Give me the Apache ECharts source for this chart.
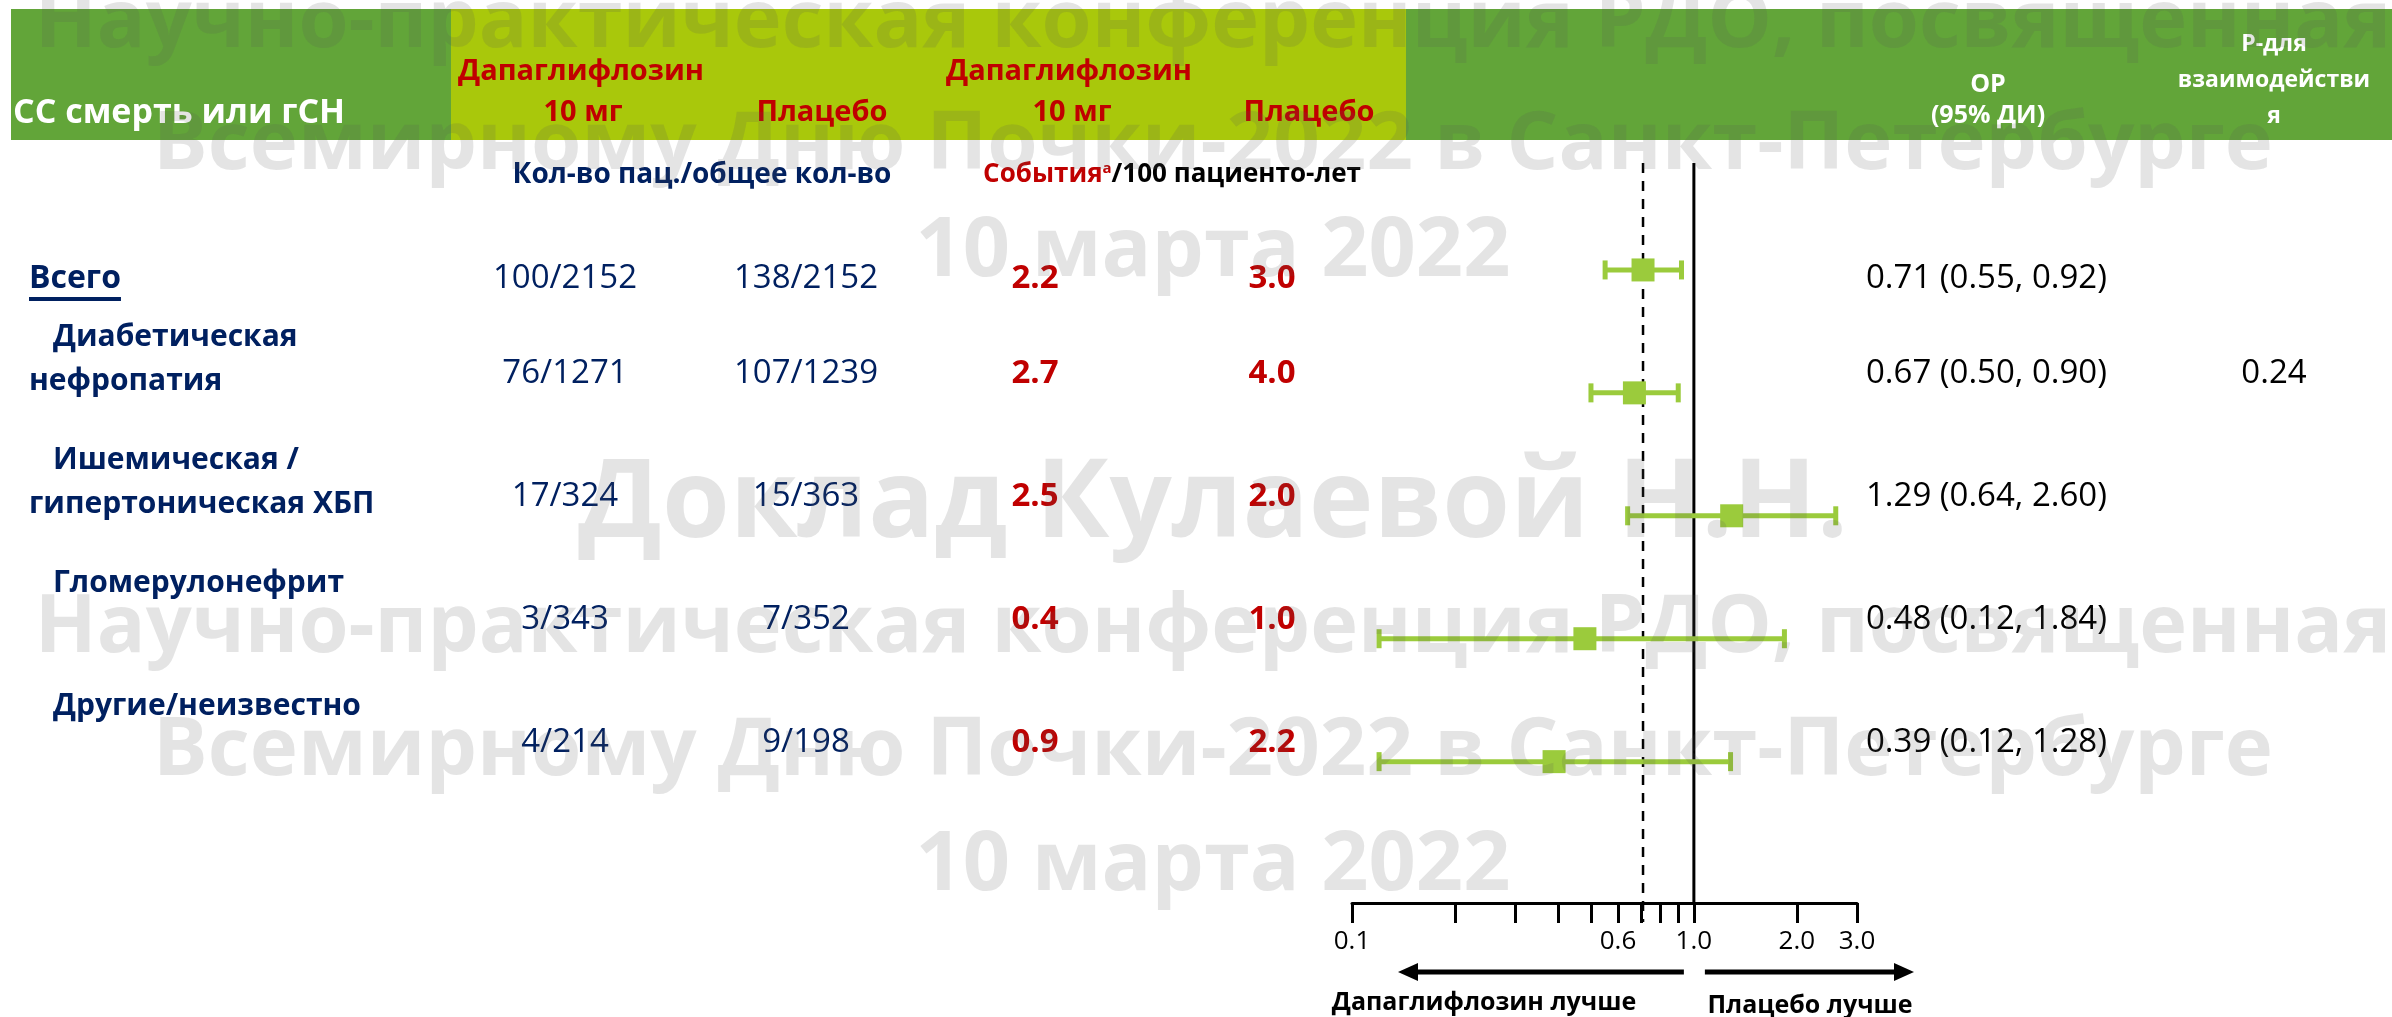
<!DOCTYPE html>
<html>
<head>
<meta charset="utf-8">
<script src="https://cdn.jsdelivr.net/npm/echarts@6.0.0/dist/echarts.min.js"></script>
<style>
  html, body { margin: 0; padding: 0; background: #fff; }
  #chart { width: 2392px; height: 1017px; }
</style>
</head>
<body>
<div id="chart"></div>
<script>
// данные
const subgroups = ['Всего', 'Диабетическая\nнефропатия', 'Ишемическая /\nгипертоническая ХБП', 'Гломерулонефрит', 'Другие/неизвестно']
const dapaEvents = [100, 76, 17, 3, 4]
const dapaTotal = [2152, 1271, 324, 343, 214]
const placeboEvents = [138, 107, 15, 7, 9]
const placeboTotal = [2152, 1239, 363, 352, 198]
const dapaRate = [2.2, 2.7, 2.5, 0.4, 0.9]
const placeboRate = [3.0, 4.0, 2.0, 1.0, 2.2]
const hr = [0.71, 0.67, 1.29, 0.48, 0.39]
const hrLow = [0.55, 0.50, 0.64, 0.12, 0.12]
const hrHigh = [0.92, 0.90, 2.60, 1.84, 1.28]
const pInteraction = ['', '0.24', '', '', '']
const tickValues = [0.1, 0.2, 0.3, 0.4, 0.5, 0.6, 0.7, 0.8, 0.9, 1.0, 2.0, 3.0]
const tickLabels = [0.1, 0.6, 1.0, 2.0, 3.0]

const FONT = '"Open Sans", "Noto Sans", sans-serif'
const NAVY = '#002060'
const RED = '#C00000'
const GREEN = '#9BCB3C'
const DARK_GREEN = '#62A539'
const LIME = '#A9C80B'

const measureCtx = document.createElement('canvas').getContext('2d')
const textWidth = (t, font) => { measureCtx.font = font; return measureCtx.measureText(t).width }

const fmt1 = v => v.toFixed(1)
const fmt2 = v => v.toFixed(2)

function renderRow (params, api) {
  const i = params.dataIndex
  const cs = params.coordSys
  const c = api.coord([api.value(0), api.value(1)])
  const lo = api.coord([api.value(2), api.value(1)])
  const hi = api.coord([api.value(3), api.value(1)])
  const y = c[1]
  const ty = i === 0 ? y + 9 : y - 19
  const kids = []

  const txt = (x, yy, text, extra) => ({
    type: 'text', x: x, y: yy,
    style: Object.assign({
      text: text, fontFamily: FONT, fontSize: 33, fill: NAVY,
      align: 'center', verticalAlign: 'middle'
    }, extra)
  })

  if (i === 0) {
    // линии: ОР = 1 и общий ОР
    const x1 = api.coord([0, 0])[0]
    kids.push({ type: 'line', shape: { x1: x1, y1: cs.y, x2: x1, y2: cs.y + cs.height }, style: { stroke: '#000', lineWidth: 3 } })
    kids.push({ type: 'line', shape: { x1: c[0], y1: cs.y, x2: c[0], y2: cs.y + cs.height + 19 }, style: { stroke: '#000', lineWidth: 2.5, lineDash: [10, 8] } })
  }

  kids.push({ type: 'line', shape: { x1: lo[0], y1: y, x2: hi[0], y2: y }, style: { stroke: GREEN, lineWidth: 5 } })
  kids.push({ type: 'line', shape: { x1: lo[0], y1: y - 9.5, x2: lo[0], y2: y + 9.5 }, style: { stroke: GREEN, lineWidth: 5 } })
  kids.push({ type: 'line', shape: { x1: hi[0], y1: y - 9.5, x2: hi[0], y2: y + 9.5 }, style: { stroke: GREEN, lineWidth: 5 } })
  kids.push({ type: 'rect', shape: { x: c[0] - 11.5, y: y - 11.5, width: 23, height: 23 }, style: { fill: GREEN } })

  kids.push(txt(565, ty, dapaEvents[i] + '/' + dapaTotal[i]))
  kids.push(txt(806, ty, placeboEvents[i] + '/' + placeboTotal[i]))
  kids.push(txt(1035, ty, fmt1(dapaRate[i]), { fill: RED, fontWeight: 'bold' }))
  kids.push(txt(1272, ty, fmt1(placeboRate[i]), { fill: RED, fontWeight: 'bold' }))
  kids.push(txt(1866, ty, fmt2(hr[i]) + ' (' + fmt2(hrLow[i]) + ', ' + fmt2(hrHigh[i]) + ')', { fill: '#000', align: 'left' }))
  if (pInteraction[i]) kids.push(txt(2274, ty, pInteraction[i], { fill: '#000' }))

  const lines = subgroups[i].split('\n')
  if (i === 0) {
    kids.push(txt(29, ty, lines[0], { align: 'left', fontWeight: 'bold', fontSize: 32 }))
    const w = textWidth(lines[0], 'bold 32px ' + FONT)
    kids.push({ type: 'rect', shape: { x: 29, y: ty + 18, width: w, height: 4 }, style: { fill: NAVY } })
  } else {
    lines.forEach((s, k) => {
      kids.push(txt(k === 0 ? 53 : 29, ty - 36 + k * 44, s, { align: 'left', fontWeight: 'bold', fontSize: 30 }))
    })
  }
  return { type: 'group', children: kids }
}

// водяной знак
const watermark = [
  ['Научно-практическая конференция РДО, посвященная', 2357, 24],
  ['Всемирному Дню Почки-2022 в Санкт-Петербурге', 2120, 146],
  ['10 марта 2022', 595, 252],
  ['Доклад Кулаевой Н.Н.', 1270, 506],
  ['Научно-практическая конференция РДО, посвященная', 2357, 629],
  ['Всемирному Дню Почки-2022 в Санкт-Петербурге', 2120, 752],
  ['10 марта 2022', 595, 866]
]
const watermarkEls = watermark.map(([t, w, y]) => {
  const size = 100 * w / textWidth(t, 'bold 100px ' + FONT)
  return {
    type: 'text', x: 1213, y: y, z: 100, silent: true,
    style: {
      text: t, fontFamily: FONT, fontWeight: 'bold', fontSize: size,
      fill: 'rgba(90,90,90,0.16)', align: 'center', verticalAlign: 'middle',
      shadowColor: 'rgba(0,0,0,0.10)', shadowBlur: 8, shadowOffsetX: 3, shadowOffsetY: 6
    }
  }
})

const hText = (x, y, text, extra) => ({
  type: 'text', x: x, y: y,
  style: Object.assign({
    text: text, fontFamily: FONT, fontWeight: 'bold', fontSize: 29, fill: RED,
    align: 'center', verticalAlign: 'middle'
  }, extra)
})

// ось и стрелки
const gridLeft = 1352
const gridRight = 2392 - 1857
const axisMin = Math.log10(tickValues[0])
const axisMax = Math.log10(tickValues[tickValues.length - 1])
const xPix = v => gridLeft + (Math.log10(v) - axisMin) / (axisMax - axisMin) * (2392 - gridRight - gridLeft)
const x1 = xPix(1)
const arrowY = 972

const header = [
  { type: 'rect', shape: { x: 11, y: 9, width: 441, height: 131 }, style: { fill: DARK_GREEN } },
  { type: 'rect', shape: { x: 451, y: 9, width: 956, height: 131 }, style: { fill: LIME } },
  { type: 'rect', shape: { x: 1406, y: 9, width: 986, height: 131 }, style: { fill: DARK_GREEN } },
  hText(13, 113, 'СС смерть или гСН', { fill: '#fff', align: 'left', fontSize: 34 }),
  hText(581, 72, 'Дапаглифлозин'),
  hText(583, 113, '10 мг'),
  hText(822, 113, 'Плацебо'),
  hText(1069, 72, 'Дапаглифлозин'),
  hText(1072, 113, '10 мг'),
  hText(1309, 113, 'Плацебо'),
  hText(1988, 85, 'ОР', { fill: '#fff', fontSize: 25 }),
  hText(1988, 116, '(95% ДИ)', { fill: '#fff', fontSize: 25 }),
  hText(2274, 44, 'Р-для', { fill: '#fff', fontSize: 23 }),
  hText(2274, 80, 'взаимодействи', { fill: '#fff', fontSize: 23 }),
  hText(2274, 116, 'я', { fill: '#fff', fontSize: 23 }),
  hText(702, 175, 'Кол-во пац./общее кол-во', { fill: NAVY, fontSize: 28 }),
  {
    type: 'text', x: 1172, y: 175,
    style: {
      text: '{r|События}{s|а}{k|/100 пациенто-лет}',
      align: 'center', verticalAlign: 'middle',
      rich: {
        r: { fontFamily: FONT, fontWeight: 'bold', fontSize: 26, fill: RED },
        s: { fontFamily: FONT, fontWeight: 'bold', fontSize: 15, fill: RED, verticalAlign: 'top', padding: [0, 0, 12, 0] },
        k: { fontFamily: FONT, fontWeight: 'bold', fontSize: 26, fill: '#000' }
      }
    }
  },
  { type: 'line', shape: { x1: x1 - 10, y1: arrowY, x2: xPix(0.1) + 62, y2: arrowY }, style: { stroke: '#000', lineWidth: 5 } },
  { type: 'polygon', shape: { points: [[xPix(0.1) + 46, arrowY], [xPix(0.1) + 66, arrowY - 9], [xPix(0.1) + 66, arrowY + 9]] }, style: { fill: '#000' } },
  { type: 'line', shape: { x1: x1 + 11, y1: arrowY, x2: xPix(3) + 40, y2: arrowY }, style: { stroke: '#000', lineWidth: 5 } },
  { type: 'polygon', shape: { points: [[xPix(3) + 57, arrowY], [xPix(3) + 37, arrowY - 9], [xPix(3) + 37, arrowY + 9]] }, style: { fill: '#000' } },
  hText(1484, 1003, 'Дапаглифлозин лучше', { fill: '#000', fontSize: 25 }),
  hText(1810, 1006, 'Плацебо лучше', { fill: '#000', fontSize: 25 })
]

const chart = echarts.init(document.getElementById('chart'))
chart.setOption({
  animation: false,
  backgroundColor: '#fff',
  grid: { left: gridLeft, right: gridRight, top: 163, bottom: 1017 - 903 },
  xAxis: {
    type: 'value',
    min: axisMin,
    max: axisMax,
    axisLine: { onZero: false, lineStyle: { color: '#000', width: 3 } },
    axisTick: { customValues: tickValues.map(Math.log10), length: 20, lineStyle: { color: '#000', width: 3 } },
    axisLabel: {
      customValues: tickLabels.map(Math.log10),
      formatter: v => Math.pow(10, v).toFixed(1),
      color: '#000', fontSize: 26, fontFamily: FONT, margin: 26
    },
    splitLine: { show: false }
  },
  yAxis: { type: 'value', inverse: true, min: -0.87, max: 5.15, show: false },
  graphic: header.concat(watermarkEls),
  series: [{
    type: 'custom',
    renderItem: renderRow,
    encode: { x: [0, 2, 3], y: 1 },
    data: subgroups.map((s, i) => [Math.log10(hr[i]), i, Math.log10(hrLow[i]), Math.log10(hrHigh[i])])
  }]
})
</script>
</body>
</html>
